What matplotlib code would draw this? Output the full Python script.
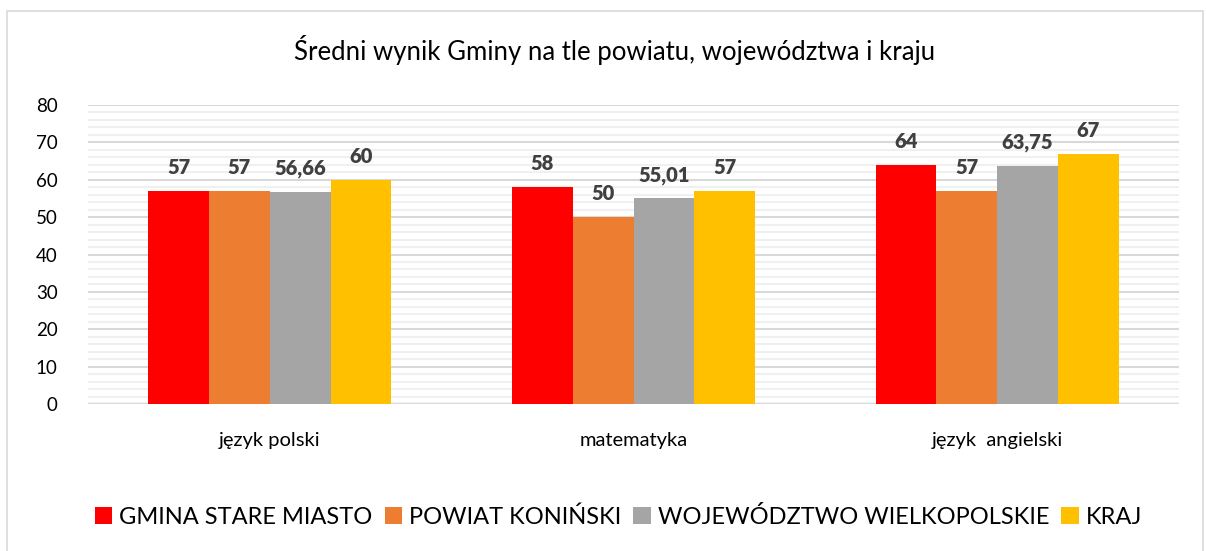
import numpy as np
import matplotlib
matplotlib.use("Agg")
import matplotlib.pyplot as plt
from matplotlib.patches import Rectangle

plt.rcParams['font.family'] = ['Lato', 'DejaVu Sans']

TITLE = "Średni wynik Gminy na tle powiatu, województwa i kraju"
CATEGORIES = ["język polski", "matematyka", "język  angielski"]
SERIES = ["GMINA STARE MIASTO", "POWIAT KONIŃSKI", "WOJEWÓDZTWO WIELKOPOLSKIE", "KRAJ"]
COLORS = ["#FF0000", "#ED7D31", "#A5A5A5", "#FFC000"]

gmina = [57, 58, 64]
powiat = [57, 50, 57]
wojewodztwo = [56.66, 55.01, 63.75]
kraj = [60, 57, 67]
VALUES = [gmina, powiat, wojewodztwo, kraj]


def fmt(v):
    if float(v).is_integer():
        return f"{int(v)}"
    return f"{v:.2f}".replace(".", ",")


fig = plt.figure(figsize=(12.06, 5.51), dpi=100, facecolor='white')
ax = fig.add_axes([0.073, 0.2668, 0.9046, 0.5426])

# outer chart frame
fig.patches.append(Rectangle((7 / 1206, -0.1), 1196 / 1206, 1.1 - 11 / 551,
                             transform=fig.transFigure, fill=False,
                             edgecolor='#D9D9D9', linewidth=1.2))

x = np.arange(len(CATEGORIES))
width = 0.167
for i, (name, vals, col) in enumerate(zip(SERIES, VALUES, COLORS)):
    pos = x + (i - 1.5) * width
    ax.bar(pos, vals, width=width, color=col, label=name, zorder=3)
    for p, v in zip(pos, vals):
        ax.annotate(fmt(v), (p, v), xytext=(0, 10), textcoords='offset points',
                    ha='center', va='bottom', fontsize=14.5, fontweight='heavy',
                    color='#404040', zorder=4)

ax.set_xlim(-0.5, len(CATEGORIES) - 0.5)
ax.set_ylim(0, 80)
ax.set_yticks(range(0, 81, 10))
ax.set_yticks(range(0, 81, 2), minor=True)
ax.grid(axis='y', which='minor', color='#F0F0F0', linewidth=1.5, zorder=0)
ax.grid(axis='y', which='major', color='#D9D9D9', linewidth=1.5, zorder=1)
ax.axhline(0, color='#D9D9D9', linewidth=2.5, zorder=2)

ax.set_xticks(x)
ax.set_xticklabels(CATEGORIES, fontsize=14.5)
ax.tick_params(axis='x', length=0, pad=20)
ax.tick_params(axis='y', which='both', length=0, labelsize=13.5, pad=22)
for s in ax.spines.values():
    s.set_visible(False)

fig.text(0.51, 0.91, TITLE, ha='center', va='center', fontsize=18.5)

fig.legend(loc='center', bbox_to_anchor=(0.513, 0.062), ncol=4, frameon=False,
           fontsize=17, handlelength=0.75, handleheight=0.75, handletextpad=0.3,
           columnspacing=0.5)

fig.savefig("out.png", dpi=100)
